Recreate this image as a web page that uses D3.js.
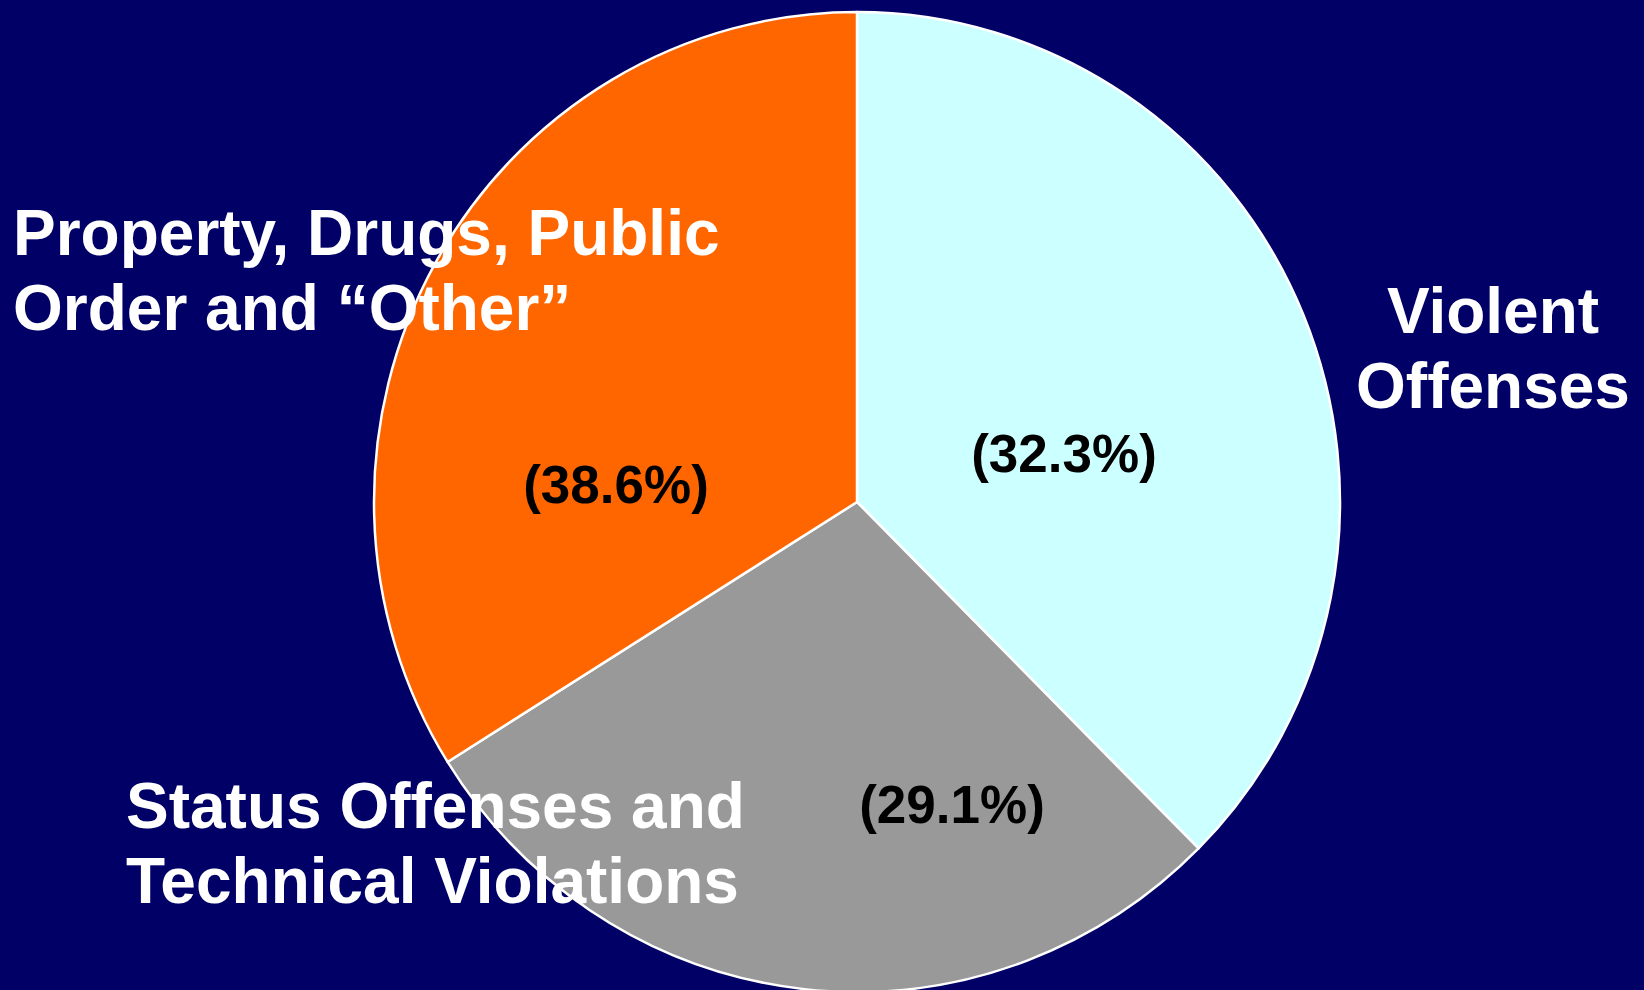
<!DOCTYPE html>
<html>
<head>
<meta charset="utf-8">
<script src="https://cdn.jsdelivr.net/npm/d3@7/dist/d3.min.js"></script>
<style>
  html, body { margin: 0; padding: 0; background: #000066; }
  svg { display: block; }
  text { font-family: "Liberation Sans", Arial, Helvetica, sans-serif; font-weight: bold; }
</style>
</head>
<body>
<svg id="chart" width="1644" height="990"></svg>
<script>
// Categories in drawing order (clockwise from 12 o'clock)
const categories = ["Violent Offenses", "Status Offenses and Technical Violations", "Property, Drugs, Public Order and \u201COther\u201D"];
// Slice shares as drawn in the picture (percent of circle)
const sliceValues = [37.5, 28.6, 33.9];
// Percentage labels printed on the slices
const percentLabels = ["(32.3%)", "(29.1%)", "(38.6%)"];
// Category label lines
const categoryLines = [
  ["Violent", "Offenses"],
  ["Status Offenses and", "Technical Violations"],
  ["Property, Drugs, Public", "Order and \u201COther\u201D"]
];
const colors = ["#CCFFFF", "#999999", "#FF6600"];

const svg = d3.select("#chart");
const W = 1644, H = 990;
svg.append("rect").attr("width", W).attr("height", H).attr("fill", "#000066");

const cx = 857, cy = 502, r = 483, sy = 490 / 483;

const pie = d3.pie().sort(null).value(d => d)(sliceValues);
const arc = d3.arc().innerRadius(0).outerRadius(r);

const g = svg.append("g").attr("transform", `translate(${cx},${cy}) scale(1,${sy})`);
g.selectAll("path").data(pie).join("path")
  .attr("d", arc)
  .attr("fill", (d, i) => colors[i])
  .attr("stroke", "#ffffff")
  .attr("stroke-width", 2.5)
  .attr("vector-effect", "non-scaling-stroke")
  .attr("stroke-linejoin", "round");

// Percent labels (black) positioned in slice
const pctPos = [[1064, 472], [952, 823], [616, 503]];
svg.selectAll("text.pct").data(percentLabels).join("text")
  .attr("class", "pct")
  .attr("x", (d, i) => pctPos[i][0])
  .attr("y", (d, i) => pctPos[i][1])
  .attr("text-anchor", "middle")
  .attr("font-size", 53)
  .attr("fill", "#000000")
  .text(d => d);

// Category labels (white)
const catPos = [
  { x: 1493, y: 333, anchor: "middle" },
  { x: 126, y: 828, anchor: "start" },
  { x: 13, y: 255, anchor: "start" }
];
const lineH = 75;
categoryLines.forEach((lines, i) => {
  const t = svg.append("text")
    .attr("x", catPos[i].x)
    .attr("y", catPos[i].y)
    .attr("text-anchor", catPos[i].anchor)
    .attr("font-size", 64)
    .attr("fill", "#ffffff");
  lines.forEach((ln, j) => {
    t.append("tspan").attr("x", catPos[i].x).attr("y", catPos[i].y + j * lineH).text(ln);
  });
});
</script>
</body>
</html>
